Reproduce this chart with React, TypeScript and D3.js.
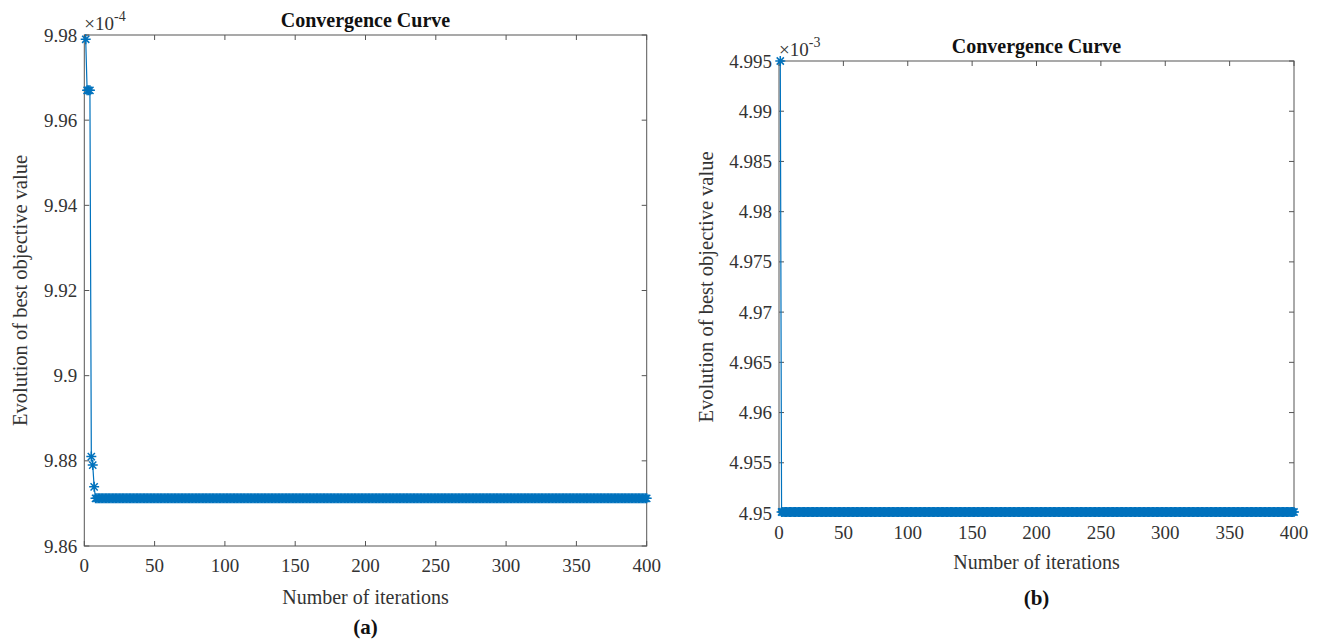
import * as d3 from "d3";

// iterations 1..400, values shown in axis units (x10^-4 and x10^-3)
const ITERS = 400;
const headA = [9.979, 9.967, 9.967, 9.967, 9.881, 9.879, 9.8739];
const plateauA = 9.8712;
const headB = [4.995];
const plateauB = 4.9501;

const xTicks = [0, 50, 100, 150, 200, 250, 300, 350, 400];
const yTicksA = [9.86, 9.88, 9.9, 9.92, 9.94, 9.96, 9.98];
const yTicksB = [4.95, 4.955, 4.96, 4.965, 4.97, 4.975, 4.98, 4.985, 4.99, 4.995];

const TITLE = "Convergence Curve";
const XLABEL = "Number of iterations";
const YLABEL = "Evolution of best objective value";

const FONT = "'Liberation Serif', 'Times New Roman', serif";
const BLUE = "#0072BD";
const AX = "#555";
const TXT = "#333";

function series(head: number[], plateau: number) {
  const out: [number, number][] = head.map((v, i) => [i + 1, v]);
  for (let i = head.length + 1; i <= ITERS; i++) out.push([i, plateau]);
  return out;
}

function star(r: number) {
  const d = r * 0.72;
  return `M${-r},0H${r}M0,${-r}V${r}M${-d},${-d}L${d},${d}M${-d},${d}L${d},${-d}`;
}

interface PanelProps {
  data: [number, number][];
  yTicks: number[];
  exp: string;
  left: number;
  right: number;
  top: number;
  bottom: number;
  tag: string;
  tagY: number;
  xLabelY: number;
  yLabelX: number;
}

function Panel({ data, yTicks, exp, left, right, top, bottom, tag, tagY, xLabelY, yLabelX }: PanelProps) {
  const x = d3.scaleLinear().domain([0, ITERS]).range([left, right]);
  const y = d3
    .scaleLinear()
    .domain([yTicks[0], yTicks[yTicks.length - 1]])
    .range([bottom, top]);
  const line = d3
    .line<[number, number]>()
    .x((d) => x(d[0]))
    .y((d) => y(d[1]));
  const cx = (left + right) / 2;
  const cy = (top + bottom) / 2;
  const tl = 5;
  const mk = star(5);
  const fmt = (v: number) => String(+v.toFixed(4));

  return (
    <g style={{ fontFamily: FONT }} fill={TXT}>
      {/* ticks, mirrored on all four sides */}
      {xTicks.map((t) => (
        <g key={"x" + t}>
          <line x1={x(t)} x2={x(t)} y1={bottom} y2={bottom - tl} stroke={AX} />
          <line x1={x(t)} x2={x(t)} y1={top} y2={top + tl} stroke={AX} />
          <text x={x(t)} y={bottom + 26} fontSize={19} textAnchor="middle">
            {t}
          </text>
        </g>
      ))}
      {yTicks.map((t) => (
        <g key={"y" + t}>
          <line x1={left} x2={left + tl} y1={y(t)} y2={y(t)} stroke={AX} />
          <line x1={right} x2={right - tl} y1={y(t)} y2={y(t)} stroke={AX} />
          <text x={left - 7} y={y(t) + 6.5} fontSize={19} textAnchor="end">
            {fmt(t)}
          </text>
        </g>
      ))}
      <rect
        x={left}
        y={top}
        width={right - left}
        height={bottom - top}
        fill="none"
        stroke={AX}
        strokeWidth={1}
      />
      <path d={line(data) ?? ""} fill="none" stroke={BLUE} strokeWidth={1.2} />
      {data.map((d) => (
        <path
          key={d[0]}
          d={mk}
          transform={`translate(${x(d[0])},${y(d[1])})`}
          fill="none"
          stroke={BLUE}
          strokeWidth={1.5}
        />
      ))}
      <text x={left} y={top - 5} fontSize={19}>
        {"\u00d710"}
        <tspan fontSize={14} dy={-9}>
          {exp}
        </tspan>
      </text>
      <text x={cx} y={top - 8} fontSize={20} fontWeight="bold" textAnchor="middle" fill="#111">
        {TITLE}
      </text>
      <text x={cx} y={xLabelY} fontSize={20} textAnchor="middle">
        {XLABEL}
      </text>
      <text
        transform={`translate(${yLabelX},${cy}) rotate(-90)`}
        fontSize={20.5}
        textAnchor="middle"
      >
        {YLABEL}
      </text>
      <text x={cx} y={tagY} fontSize={21} fontWeight="bold" textAnchor="middle" fill="#111">
        {tag}
      </text>
    </g>
  );
}

export default function App() {
  const a = series(headA, plateauA);
  const b = series(headB, plateauB);
  return (
    <svg
      width={1320}
      height={641}
      style={{ position: "absolute", left: 0, top: 0, background: "#fff" }}
    >
      <rect width={1320} height={641} fill="#fff" />
      <Panel
        data={a}
        yTicks={yTicksA}
        exp="-4"
        left={84.3}
        right={646.7}
        top={35}
        bottom={546}
        tag="(a)"
        tagY={634}
        xLabelY={604}
        yLabelX={27}
      />
      <Panel
        data={b}
        yTicks={yTicksB}
        exp="-3"
        left={779}
        right={1294}
        top={61}
        bottom={513}
        tag="(b)"
        tagY={605}
        xLabelY={569}
        yLabelX={713}
      />
    </svg>
  );
}
